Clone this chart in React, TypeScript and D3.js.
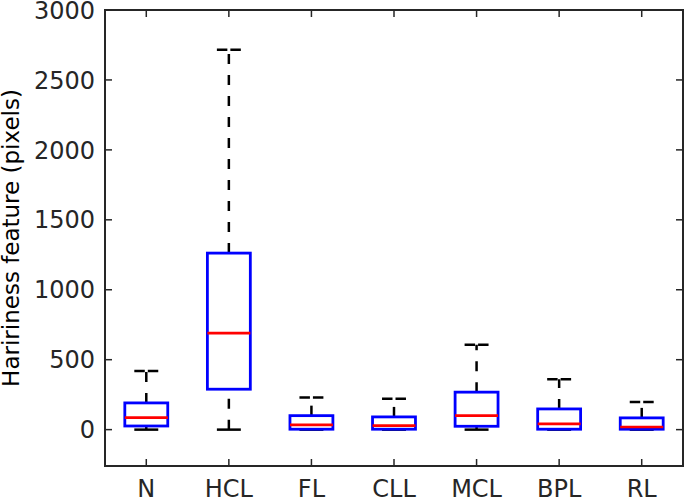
import React from "react";
import * as d3 from "d3";

// categories and box stats
const categories = ["N", "HCL", "FL", "CLL", "MCL", "BPL", "RL"];
const lowerWhisker = [0, 0, 0, 0, 0, 0, 0];
const q1 = [26, 289, 3, 3, 24, 3, 3];
const median = [86, 690, 34, 29, 100, 41, 19];
const q3 = [191, 1262, 100, 91, 268, 148, 84];
const upperWhisker = [420, 2716, 229, 220, 606, 360, 198];
const yTicks = [0, 500, 1000, 1500, 2000, 2500, 3000];

const W = 685;
const H = 499;
const margin = { left: 105, right: 2, top: 10, bottom: 33 };
const axisColor = "#262626";

const App = () => {
    const x = d3.scaleLinear().domain([0.5, categories.length + 0.5]).range([margin.left, W - margin.right]);
    const y = d3.scaleLinear().domain([-260, 3000]).range([H - margin.bottom, margin.top]);

    const x0 = margin.left, x1 = W - margin.right;
    const y0 = H - margin.bottom, y1 = margin.top;
    const boxHalf = (x(1.26) - x(1));
    const capHalf = (x(1.145) - x(1));

    return (
        <svg width={W} height={H} style={{ position: "absolute", left: 0, top: 0, background: "#fff" }}
            fontFamily="DejaVu Sans, sans-serif">
            {categories.map((c, i) => {
                const cx = x(i + 1);
                return (
                    <g key={c}>
                        {/* whiskers, drawn from the low end upward */}
                        <line x1={cx} x2={cx} y1={y(q3[i])} y2={y(upperWhisker[i])}
                            stroke="#000" strokeWidth={2.5} strokeDasharray="10,11" />
                        <line x1={cx} x2={cx} y1={y(lowerWhisker[i])} y2={y(q1[i])}
                            stroke="#000" strokeWidth={2.5} strokeDasharray="10,11" />
                        <line x1={cx - capHalf} x2={cx + capHalf} y1={y(upperWhisker[i])} y2={y(upperWhisker[i])}
                            stroke="#000" strokeWidth={2.5} strokeDasharray={`${capHalf - 1.5},3`} />
                        <line x1={cx - capHalf} x2={cx + capHalf} y1={y(lowerWhisker[i])} y2={y(lowerWhisker[i])}
                            stroke="#000" strokeWidth={2.5} />
                        <rect x={cx - boxHalf} y={y(q3[i])} width={boxHalf * 2} height={y(q1[i]) - y(q3[i])}
                            fill="none" stroke="#0000ff" strokeWidth={2.8} />
                        <line x1={cx - boxHalf} x2={cx + boxHalf} y1={y(median[i])} y2={y(median[i])}
                            stroke="#ff0000" strokeWidth={2.6} />
                    </g>
                );
            })}

            {/* frame */}
            <rect x={x0} y={y1} width={x1 - x0} height={y0 - y1} fill="none" stroke={axisColor} strokeWidth={2} />

            {yTicks.map(t => (
                <g key={t}>
                    <line x1={x0} x2={x0 + 7} y1={y(t)} y2={y(t)} stroke={axisColor} strokeWidth={1.5} />
                    <line x1={x1 - 7} x2={x1} y1={y(t)} y2={y(t)} stroke={axisColor} strokeWidth={1.5} />
                    <text x={x0 - 10} y={y(t)} dy="0.36em" textAnchor="end" fontSize={24} fill={axisColor}>{t}</text>
                </g>
            ))}
            {categories.map((c, i) => (
                <g key={c}>
                    <line x1={x(i + 1)} x2={x(i + 1)} y1={y0} y2={y0 - 7} stroke={axisColor} strokeWidth={1.5} />
                    <line x1={x(i + 1)} x2={x(i + 1)} y1={y1} y2={y1 + 7} stroke={axisColor} strokeWidth={1.5} />
                    <text x={x(i + 1)} y={497} textAnchor="middle" fontSize={24} fill={axisColor}>{c}</text>
                </g>
            ))}

            <text transform={`translate(19,${(y0 + y1) / 2}) rotate(-90)`} textAnchor="middle" fontSize={23} fill="#000">
                Haririness feature (pixels)
            </text>
        </svg>
    );
};

export default App;
